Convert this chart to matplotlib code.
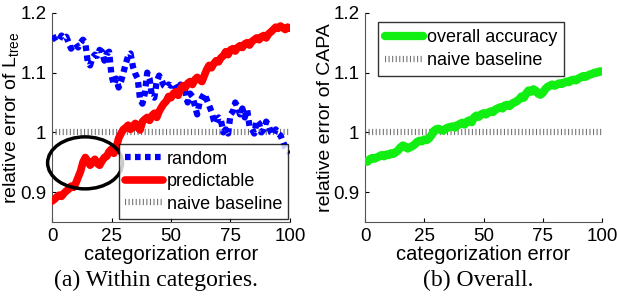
import numpy as np
import matplotlib
matplotlib.use("Agg")
import matplotlib.pyplot as plt
from matplotlib.patches import Ellipse

plt.rcParams['font.family'] = ['Liberation Sans', 'DejaVu Sans']
plt.rcParams['mathtext.fontset'] = 'custom'
plt.rcParams['mathtext.rm'] = 'Liberation Sans'

x = list(range(0, 101))

random_err = [1.155, 1.158, 1.16, 1.155, 1.162, 1.158, 1.16, 1.15, 1.14, 1.145,
              1.148, 1.142, 1.15, 1.155, 1.15, 1.118, 1.112, 1.125, 1.13, 1.128,
              1.138, 1.135, 1.12, 1.132, 1.135, 1.095, 1.08, 1.09, 1.075, 1.085,
              1.1, 1.115, 1.128, 1.132, 1.11, 1.098, 1.09, 1.055, 1.048, 1.065,
              1.1, 1.09, 1.06, 1.058, 1.085, 1.095, 1.088, 1.078, 1.075, 1.08,
              1.078, 1.082, 1.075, 1.07, 1.08, 1.072, 1.068, 1.05, 1.065, 1.06,
              1.045, 1.03, 1.05, 1.058, 1.065, 1.055, 1.045, 1.035, 1.02, 1.015,
              1.025, 1.02, 1.0, 1.005, 0.998, 1.03, 1.035, 1.05, 1.042, 1.03,
              1.04, 1.025, 1.038, 1.01, 1.005, 0.998, 1.02, 1.015, 1.0, 1.005,
              1.018, 1.012, 1.0, 0.996, 1.005, 0.998, 0.995, 0.985, 0.975, 0.97,
              0.965]

predictable_err = [0.885, 0.888, 0.892, 0.895, 0.893, 0.898, 0.902, 0.905, 0.91, 0.908,
                   0.915, 0.925, 0.935, 0.95, 0.958, 0.952, 0.945, 0.95, 0.955, 0.948,
                   0.945, 0.952, 0.958, 0.96, 0.968, 0.972, 0.965, 0.975, 0.99, 0.998,
                   1.005, 1.008, 1.012, 1.005, 1.01, 1.015, 1.008, 1.004, 1.018, 1.022,
                   1.025, 1.02, 1.028, 1.032, 1.025, 1.035, 1.042, 1.048, 1.052, 1.06,
                   1.058, 1.065, 1.068, 1.062, 1.072, 1.078, 1.075, 1.082, 1.085, 1.08,
                   1.088, 1.092, 1.088, 1.085, 1.095, 1.105, 1.112, 1.108, 1.115, 1.12,
                   1.118, 1.125, 1.128, 1.135, 1.13, 1.138, 1.14, 1.136, 1.142, 1.145,
                   1.142, 1.148, 1.15, 1.146, 1.152, 1.155, 1.158, 1.155, 1.16, 1.162,
                   1.158, 1.165, 1.168, 1.172, 1.176, 1.174, 1.178, 1.175, 1.172, 1.176,
                   1.174]

overall_err = [0.952, 0.951, 0.955, 0.957, 0.956, 0.958, 0.96, 0.962, 0.96, 0.963,
               0.962, 0.965, 0.964, 0.967, 0.97, 0.975, 0.978, 0.976, 0.973, 0.975,
               0.977, 0.98, 0.984, 0.986, 0.985, 0.988, 0.987, 0.99, 0.995, 1.002,
               1.005, 1.006, 1.004, 1.003, 1.006, 1.008, 1.009, 1.01, 1.008, 1.012,
               1.014, 1.016, 1.013, 1.018, 1.02, 1.017, 1.025, 1.028, 1.026, 1.03,
               1.032, 1.03, 1.033, 1.035, 1.034, 1.038, 1.04, 1.042, 1.04, 1.045,
               1.046, 1.044, 1.048, 1.05, 1.052, 1.055, 1.06, 1.058, 1.065, 1.07,
               1.068, 1.072, 1.07, 1.065, 1.063, 1.066, 1.072, 1.076, 1.078, 1.08,
               1.078, 1.08, 1.082, 1.081, 1.083, 1.085, 1.084, 1.087, 1.088, 1.087,
               1.09, 1.092, 1.094, 1.093, 1.095, 1.097, 1.098, 1.1, 1.1, 1.102,
               1.102]

baseline_x = [0, 100]
baseline_y = [1.0, 1.0]

xticks = [0, 25, 50, 75, 100]
yticks = [0.9, 1.0, 1.1, 1.2]
yticklabels = ['0.9', '1', '1.1', '1.2']

fig = plt.figure(figsize=(6.17, 3.05), dpi=100)
ax1 = fig.add_axes([0.0843, 0.272, 0.3857, 0.686])
ax2 = fig.add_axes([0.5916, 0.272, 0.3841, 0.686])

FS = 14.5
TFS = 13.5
LFS = 13

BASE_KW = dict(color='#707070', linewidth=4.5, linestyle=(0, (0.17, 0.4)),
               dash_capstyle='butt', label='naive baseline', zorder=2)

def style(ax):
    ax.set_xlim(0, 100)
    ax.set_ylim(0.85, 1.2)
    ax.set_xticks(xticks)
    ax.set_xticklabels([str(t) for t in xticks])
    ax.set_yticks(yticks)
    ax.set_yticklabels(yticklabels)
    ax.tick_params(direction='in', length=3, labelsize=TFS, width=0.8, pad=4)
    for s in ['top', 'right']:
        ax.spines[s].set_visible(False)
    for s in ['left', 'bottom']:
        ax.spines[s].set_color('#555555')
    ax.set_xlabel('categorization error', fontsize=FS, labelpad=0)

# Left plot
bl1, = ax1.plot(baseline_x, baseline_y, **BASE_KW)
rl, = ax1.plot(x, random_err, color='blue', linewidth=4.5, linestyle=(0, (0.9, 0.7)),
               dash_capstyle='butt', label='random', zorder=3)
pl, = ax1.plot(x, predictable_err, color='red', linewidth=5.5, label='predictable',
               solid_joinstyle='round', solid_capstyle='round', zorder=4)
style(ax1)
ax1.set_ylabel('relative error of L$_{\\mathregular{tree}}$', fontsize=14)
ax1.yaxis.set_label_coords(-0.128, 0.5)
ell = Ellipse((13.9, 0.949), width=31.5, height=0.087, fill=False, edgecolor='black',
              linewidth=2.5, clip_on=False, zorder=6)
ax1.add_patch(ell)
leg1 = ax1.legend(handles=[rl, pl, bl1], loc='lower right', bbox_to_anchor=(0.993, 0.015),
                  fontsize=LFS, frameon=True, fancybox=False, edgecolor='black',
                  handlelength=2.1, handletextpad=0.2, labelspacing=0.3,
                  borderpad=0.35, borderaxespad=0)
leg1.get_frame().set_linewidth(1.0)
leg1.set_zorder(7)

# Right plot
bl2, = ax2.plot(baseline_x, baseline_y, **BASE_KW)
ol, = ax2.plot(x, overall_err, color='#11ee11', linewidth=6, label='overall accuracy',
               solid_joinstyle='round', solid_capstyle='round', zorder=4)
style(ax2)
ax2.set_ylabel('relative error of CAPA', fontsize=14)
ax2.yaxis.set_label_coords(-0.13, 0.5)
leg2 = ax2.legend(handles=[ol, bl2], loc='upper left', bbox_to_anchor=(0.055, 0.955),
                  fontsize=LFS, frameon=True, fancybox=False, edgecolor='black',
                  handlelength=2.1, handletextpad=0.2, labelspacing=0.3,
                  borderpad=0.4, borderaxespad=0)
leg2.get_frame().set_linewidth(1.0)

fig.text(0.253, 0.079, '(a) Within categories.', ha='center', va='center',
         fontsize=17, family='Liberation Serif')
fig.text(0.775, 0.079, '(b) Overall.', ha='center', va='center',
         fontsize=17, family='Liberation Serif')

fig.savefig('out.png', dpi=100)
